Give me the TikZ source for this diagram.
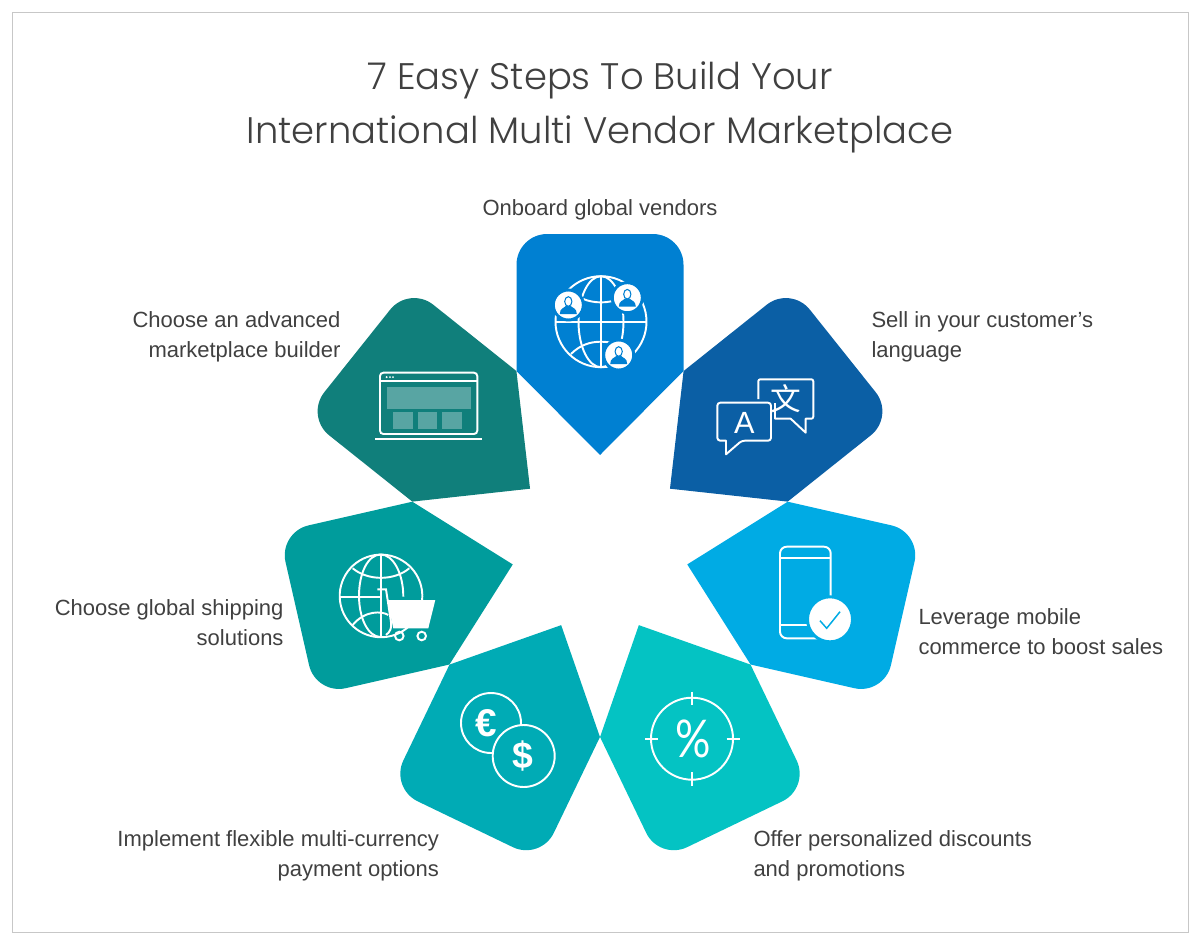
\documentclass[tikz,border=0pt]{standalone}
\usepackage{fontspec}
\setmainfont{Liberation Sans}
\newfontfamily\titlefont{Poppins Light}
\newfontfamily\thinfont{Lato}
\newfontfamily\cjk{Noto Sans CJK SC}

\definecolor{petalA}{HTML}{0080D2}
\definecolor{petalB}{HTML}{0B5FA5}
\definecolor{petalC}{HTML}{00ABE4}
\definecolor{petalD}{HTML}{04C3C3}
\definecolor{petalE}{HTML}{00ABB5}
\definecolor{petalF}{HTML}{009C9C}
\definecolor{petalG}{HTML}{107F7B}
\definecolor{labelgray}{HTML}{404040}

\tikzset{
    every picture/.style={line width=0.75pt},
    steplabel/.style={font=\fontsize{16.5}{22.5}\selectfont, text=labelgray, inner sep=0pt},
    icon/.style={draw=white, line width=1.45pt},
    glyph/.style={text=white, inner sep=0pt},
}

% one white person badge: x, y, colour of the figure
\newcommand{\personbadge}[3]{
    \draw [line width=2.2pt, draw=#3, fill=white] (#1,#2) circle (15);
    \fill [#3] (#1-8.5,#2+9) .. controls (#1-8.5,#2+3) and (#1-4,#2+3) .. (#1-2.5,#2+1) -- (#1+2.5,#2+1) .. controls (#1+4,#2+3) and (#1+8.5,#2+3) .. (#1+8.5,#2+9) -- cycle ;
    \draw [#3, fill=white, line width=0.8pt] (#1,#2-3.5) ellipse (3.6 and 4.8);
}

\begin{document}
\begin{tikzpicture}[x=0.75pt,y=0.75pt,yscale=-1,xscale=1]
    \useasboundingbox (0,0) rectangle (1200,939);

    %Shape: Frame
    \draw [draw=black!22] (12,12) rectangle (1188,932);

    %Shape: Petals, turned round the centre of the flower
    \foreach \ang/\col in {0/petalA,51.4286/petalB,102.8571/petalC,154.2857/petalD,205.7143/petalE,257.1429/petalF,308.5714/petalG}
        \fill [\col, rotate around={\ang:(600,544.5)}] (516.5,371) [rounded corners=23pt] -- (516.5,234) -- (683.5,234) [sharp corners] -- (683.5,371) -- (600,455) -- cycle ;

    % Text Node
    \node (title) [font=\titlefont\fontsize{27.7}{40.5}\selectfont, text=labelgray, align=center] at (600,107) {7 Easy Steps To Build Your\\International Multi Vendor Marketplace};

    % Text Node
    \node (vendors) [steplabel] at (600,210) {Onboard global vendors};
    % Text Node
    \node (language) [steplabel, anchor=west, align=left] at (871,337) {Sell in your customer’s\\language};
    % Text Node
    \node (mobile) [steplabel, anchor=west, align=left] at (918,632) {Leverage mobile\\commerce to boost sales};
    % Text Node
    \node (discounts) [steplabel, anchor=west, align=left] at (753,855.5) {Offer personalized discounts\\and promotions};
    % Text Node
    \node (currency) [steplabel, anchor=east, align=right] at (439.5,855.5) {Implement flexible multi-currency\\payment options};
    % Text Node
    \node (shipping) [steplabel, anchor=east, align=right] at (284,622.5) {Choose global shipping\\solutions};
    % Text Node
    \node (builder) [steplabel, anchor=east, align=right] at (341,337) {Choose an advanced\\marketplace builder};

    %Icon: Globe with people
    \draw [icon] (601,321.7) circle (45.5) ;
    \draw [icon] (601,321.7) ellipse (22.5 and 45.5) ;
    \draw [icon] (601,276.2) -- (601,367.2) ;
    \draw [icon] (555.5,321.7) -- (646.5,321.7) ;
    \draw [icon] (583.3,299) .. controls (594,303.5) and (608,303.5) .. (618.7,299) ;
    \draw [icon] (571,354) .. controls (580,345) and (590,341.7) .. (601,341.7) .. controls (612,341.7) and (622,345) .. (631,354) ;
    \personbadge{568.3}{305}{petalA}
    \personbadge{627.3}{297.7}{petalA}
    \personbadge{618.7}{355}{petalA}

    %Icon: Speech bubbles
    \draw [icon, line join=round] (758.3,399) -- (758.3,381.3) .. controls (758.3,380) and (759.3,379.3) .. (760.3,379.3) -- (811.3,379.3) .. controls (812.3,379.3) and (813.3,380) .. (813.3,381.3) -- (813.3,416.7) .. controls (813.3,418) and (812.3,418.7) .. (811.3,418.7) -- (805.7,418.7) -- (805.7,432.7) -- (790.7,418.7) -- (775,418.7) -- (775,403) ;
    \draw [icon, line join=round, rounded corners=2.2pt] (717.3,402.7) -- (771,402.7) -- (771,440.7) -- (741.7,440.7) [sharp corners] -- (726,454.3) -- (726,440.7) [rounded corners=2.2pt] -- (717.3,440.7) -- cycle ;
    % Text Node
    \node (letterA) [glyph, font=\fontsize{23}{23}\selectfont] at (744.3,423.3) {A};
    % Text Node
    \node (letterWen) [glyph, font=\cjk\fontsize{23}{23}\selectfont] at (786,398.5) {文};

    %Icon: Phone with check mark
    \draw [icon, rounded corners=5pt] (780,546.7) rectangle (830.7,638.3) ;
    \draw [icon] (780,557.7) -- (830.7,557.7) ;
    \draw [icon] (780,625) -- (830.7,625) ;
    \draw [line width=2.2pt, draw=petalC, fill=white] (830,619.3) circle (22.5) ;
    \draw [petalC, line width=1.1pt] (820,620.7) -- (826.7,628.3) -- (840,611.7) ;

    %Icon: Percent target
    \draw [icon] (692,738.7) circle (41) ;
    \draw [icon] (645,738.7) -- (658.3,738.7) ;
    \draw [icon] (726.7,738.7) -- (740,738.7) ;
    \draw [icon] (692,691.7) -- (692,705) ;
    \draw [icon] (692,772.3) -- (692,786) ;
    % Text Node
    \node (percent) [glyph, font=\thinfont\fontsize{39}{39}\selectfont] at (693,739.3) {\scalebox{.85}[1]{\%}};

    %Icon: Coins
    \draw [icon] (491,723) circle (30) ;
    \draw [icon, fill=petalE] (523.7,756) circle (31) ;
    % Text Node
    \node (euro) [glyph, font=\bfseries\fontsize{29}{29}\selectfont] at (486.7,722.7) {€};
    % Text Node
    \node (dollar) [glyph, font=\bfseries\fontsize{28}{28}\selectfont] at (523.3,756) {\$};

    %Icon: Globe with cart
    \draw [icon] (391,636) arc (76:-360:41.3 and 41.3) ;
    \draw [icon] (380.7,554.5) -- (380.7,637) ;
    \draw [icon] (339.4,596.7) -- (380.7,596.7) ;
    \draw [icon] (403.3,596.7) .. controls (403.3,573) and (393,554.5) .. (380.7,554.5) .. controls (368,554.5) and (359,573) .. (359,595.8) .. controls (359,618) and (368,637) .. (380.7,637) ;
    \draw [icon] (352.7,568.3) .. controls (368,581) and (394,581) .. (409.3,568.3) ;
    \draw [icon] (352.7,625) .. controls (365,610) and (382,611) .. (388.3,615) ;
    \draw [icon] (377.3,589.3) -- (386,589.3) -- (391,622) .. controls (392,628) and (390,632) .. (386,635) ;
    \fill [white] (387.3,600) -- (435.3,600) -- (428.3,628.3) -- (393.3,628.3) -- cycle ;
    \draw [icon] (399.3,636) circle (4.3) ;
    \draw [icon] (421.7,636) circle (4.3) ;

    %Icon: Laptop window
    \draw [icon, rounded corners=2.5pt] (380,372.7) rectangle (477.3,434) ;
    \draw [icon] (380,381) -- (477.3,381) ;
    \draw [icon] (375,438.7) -- (482.3,438.7) ;
    \foreach \dotx in {386.7,390,393}
        \fill [white] (\dotx,377.1) circle (1.1) ;
    \fill [white!30!petalG] (386.7,386.7) rectangle (470.7,409.3) ;
    \foreach \panelx in {393.3,417.7,442}
        \fill [white!30!petalG] (\panelx,411.7) rectangle +(19.5,17.3) ;

\end{tikzpicture}
\end{document}
